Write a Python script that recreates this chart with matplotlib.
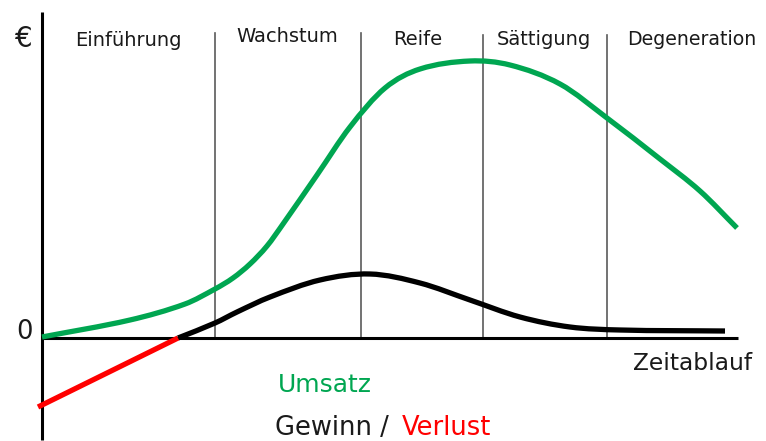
import matplotlib
matplotlib.use("Agg")
import matplotlib.pyplot as plt
from matplotlib.path import Path
from matplotlib.patches import PathPatch

# ---- data (time units from origin, value units above the zero line) ----
umsatz_t = [0, 88, 143, 173, 191, 208, 225, 241, 275, 308, 343, 378, 428, 468, 518, 565, 618, 658, 695]
umsatz_v = [1, 18, 34, 49, 60, 74, 92, 114, 163, 211, 250, 269, 277, 273, 254, 220, 179, 147, 110]

gewinn_t = [136, 173, 195, 228, 278, 328, 378, 428, 478, 528, 578, 683]
gewinn_v = [0, 15, 26, 41, 58, 64, 55, 38, 21, 11, 8, 7]

verlust_t = [-4, 136]
verlust_v = [-69, 0]

phase_bounds = [173, 319, 441, 565]
phase_names = ["Einführung", "Wachstum", "Reife", "Sättigung", "Degeneration"]
phase_label_t = [86, 245, 376, 502, 650]

GREEN = "#00a651"
RED = "#ff0000"
TXT = "#1a1a1a"


def smooth_path(xs, ys):
    """Cubic Hermite curve through the read points (x-based tangents), as a Bezier path."""
    n = len(xs)
    m = []
    for i in range(n):
        if i == 0:
            m.append((ys[1] - ys[0]) / (xs[1] - xs[0]))
        elif i == n - 1:
            m.append((ys[-1] - ys[-2]) / (xs[-1] - xs[-2]))
        else:
            m.append((ys[i + 1] - ys[i - 1]) / (xs[i + 1] - xs[i - 1]))
    verts = [(xs[0], ys[0])]
    codes = [Path.MOVETO]
    for i in range(n - 1):
        h = xs[i + 1] - xs[i]
        c1 = (xs[i] + h / 3.0, ys[i] + m[i] * h / 3.0)
        c2 = (xs[i + 1] - h / 3.0, ys[i + 1] - m[i + 1] * h / 3.0)
        verts += [c1, c2, (xs[i + 1], ys[i + 1])]
        codes += [Path.CURVE4] * 3
    return Path(verts, codes)


fig = plt.figure(figsize=(7.66, 4.41), dpi=100)
ax = fig.add_axes([0, 0, 1, 1])
ax.set_xlim(-42, 724)
ax.set_ylim(-103, 338)
ax.axis("off")

# axes lines
ax.plot([0, 0], [-102, 326], color="black", lw=2.2, solid_capstyle="butt", zorder=3)
ax.plot([0, 696], [0, 0], color="black", lw=2.2, solid_capstyle="butt", zorder=3)

# phase boundaries
for i, b in enumerate(phase_bounds):
    top = 305 if i < 2 else 303
    ax.plot([b, b], [0, top], color="#5a5a5a", lw=1.2, zorder=1)

# curves
ax.add_patch(PathPatch(smooth_path(umsatz_t, umsatz_v), facecolor="none", edgecolor=GREEN,
                       lw=3.8, capstyle="butt", joinstyle="round", zorder=4))
ax.add_patch(PathPatch(smooth_path(gewinn_t, gewinn_v), facecolor="none", edgecolor="black",
                       lw=3.8, capstyle="butt", joinstyle="round", zorder=4))
ax.plot(verlust_t, verlust_v, color=RED, lw=3.8, solid_capstyle="butt", zorder=4)

# phase labels
label_v = [292, 296, 293, 293, 293]
sizes = [14, 14, 14, 14, 13.6]
for name, t, v, s in zip(phase_names, phase_label_t, label_v, sizes):
    ax.text(t, v, name, ha="center", va="baseline", fontsize=s, color=TXT, family="DejaVu Sans")

# axis symbols
ax.text(-18, 291, "€", ha="center", va="baseline", fontsize=20, color=TXT)
ax.text(-18, -1, "0", ha="center", va="baseline", fontsize=18.5, color=TXT)
ax.text(710, -32, "Zeitablauf", ha="right", va="baseline", fontsize=16.8, color=TXT)

# legend-like labels
ax.text(236, -54, "Umsatz", ha="left", va="baseline", fontsize=18, color=GREEN)
ax.text(233, -97, "Gewinn / ", ha="left", va="baseline", fontsize=18.5, color=TXT)
ax.text(360, -97, "Verlust", ha="left", va="baseline", fontsize=18.5, color=RED)

fig.savefig("out.png", dpi=100)
